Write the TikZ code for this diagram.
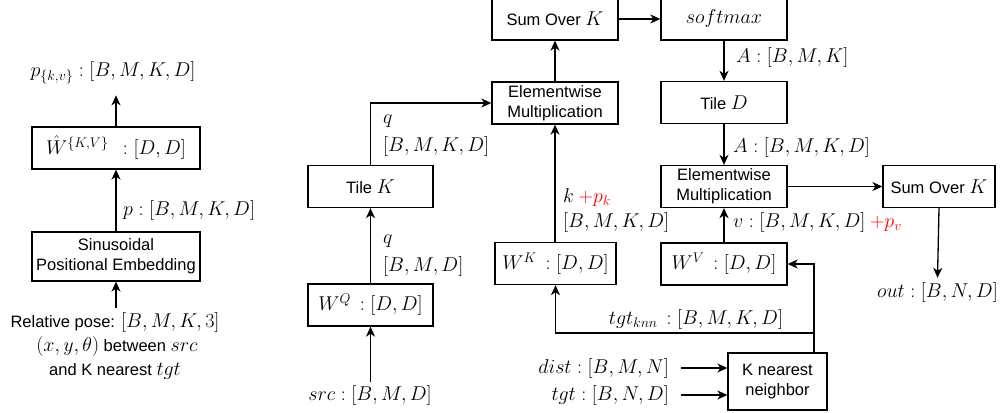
\RequirePackage{fix-cm}
\documentclass[tikz,border=0pt]{standalone}
\usepackage{fontspec}
\setsansfont{Liberation Sans}
\usetikzlibrary{arrows.meta}
\DeclareMathSizes{16.5}{20}{14}{10}
\begin{document}
\begin{tikzpicture}[x=1pt,y=-1pt,
  font=\fontsize{16.5}{20}\selectfont\sffamily,
  box/.style={draw,line width=1.3pt,inner sep=0pt,minimum height=42pt},
  lab/.style={inner sep=0pt},
  arr/.style={-{Stealth[length=10pt,width=9pt,inset=3pt]},line width=1.3pt}]
\useasboundingbox (0,0) rectangle (1003,412);
% boxes
\node[box,minimum width=126pt] (sumA) at (555,19) {Sum Over $K$};
\node[box,minimum width=126pt] (soft) at (724,19) {$softmax$};
\node[box,minimum width=126pt,align=center] (elemA) at (555,103) {Elementwise\\Multiplication};
\node[box,minimum width=126pt] (tileD) at (724,102.5) {Tile $D$};
\node[box,minimum width=125pt] (tileK) at (370.5,186.5) {Tile $K$};
\node[box,minimum width=126pt,align=center] (elemB) at (724,186.5) {Elementwise\\Multiplication};
\node[box,minimum width=112pt] (sumB) at (939,186.5) {Sum Over $K$};
\node[box,minimum width=121pt] (wk) at (555.5,263.5) {$W^K\,:[D,D]$};
\node[box,minimum width=126pt] (wv) at (724,264) {$W^V\,:[D,D]$};
\node[box,minimum width=125pt] (wq) at (370.5,305) {$W^Q\,:[D,D]$};
\node[box,minimum width=99pt,minimum height=57pt,align=center] (knn) at (777.5,381.5) {K nearest\\neighbor};
\node[box,minimum width=168pt] (what) at (116,148) {$\hat W^{\{K,V\}}\;\,:[D,D]$};
\node[box,minimum width=168pt,minimum height=49pt,align=center] (sinus) at (116,256.5) {Sinusoidal\\Positional Embedding};
% labels
\node[lab,anchor=base] (pkv) at (113,77) {$p_{\{k,v\}}:[B,M,K,D]$};
\node[lab,anchor=base west] (plab) at (123,215) {$p:[B,M,K,D]$};
\node[lab,anchor=base,inner ysep=4pt] (rel1) at (115,327) {Relative pose: $[B,M,K,3]$};
\node[lab,anchor=base] (rel2) at (117,351) {$(x,y,\theta)$ between $src$};
\node[lab,anchor=base] (rel3) at (115,375) {and K nearest $tgt$};
\node[lab,anchor=base,inner ysep=3pt] (src) at (370,400) {$src:[B,M,D]$};
\node[lab,anchor=base west] (q1) at (383,243.6) {$q$};
\node[lab,anchor=base west] (q1d) at (383,271.7) {$[B,M,D]$};
\node[lab,anchor=base west] (q2) at (383,123.6) {$q$};
\node[lab,anchor=base west] (q2d) at (383,151.7) {$[B,M,K,D]$};
\node[lab,anchor=base west] (k1) at (563,202) {$k$ \textcolor{red}{$+p_k$}};
\node[lab,anchor=base west] (k1d) at (563,227) {$[B,M,K,D]$};
\node[lab,anchor=base] (tknn) at (696,324) {$tgt_{knn}\,:[B,M,K,D]$};
\node[lab,anchor=base east] (dist) at (669,373) {$dist:[B,M,N]$};
\node[lab,anchor=base east] (tgt) at (669,400) {$tgt:[B,N,D]$};
\node[lab,anchor=base west] (a1) at (736,63) {$A:[B,M,K]$};
\node[lab,anchor=base west] (a2) at (733,152) {$A:[B,M,K,D]$};
\node[lab,anchor=base west] (vlab) at (733,227) {$v:[B,M,K,D]$ \textcolor{red}{$+p_v$}};
\node[lab,anchor=base,inner ysep=4pt] (out) at (937.5,297) {$out:[B,N,D]$};
% connectors
\draw[arr,shorten >=11pt] (what.north) -- (what.north |- pkv.south);
\draw[arr] (sinus.north) -- (what.south);
\draw[arr] (sinus.south |- rel1.north) -- (sinus.south);
\draw[arr] (wq.south |- src.north) -- (wq.south);
\draw[arr] (wq.north) -- (tileK.south);
\draw[arr] (tileK.north) |- (elemA.west);
\draw[arr] (elemA.north) -- (sumA.south);
\draw[arr] (elemA.south |- wk.north) -- (elemA.south);
\draw[arr] (sumA.east) -- (soft.west);
\draw[arr] (soft.south) -- (tileD.north);
\draw[arr] (tileD.south) -- (elemB.north);
\draw[arr] (wv.north) -- (elemB.south);
\draw[arr] (elemB.east) -- (sumB.west);
\draw[arr] (sumB.south) -- (out.north);
\coordinate (jn) at (814,333);
\draw[arr] (knn.north -| jn) -- (jn |- wv.east) -- (wv.east);
\draw[arr] (jn) -- (jn -| wk.south) -- (wk.south);
\draw[arr] ([xshift=12pt]dist.east) -- (knn.west |- dist.east);
\draw[arr] ([xshift=12pt]tgt.east) -- (knn.west |- tgt.east);
\end{tikzpicture}
\end{document}
